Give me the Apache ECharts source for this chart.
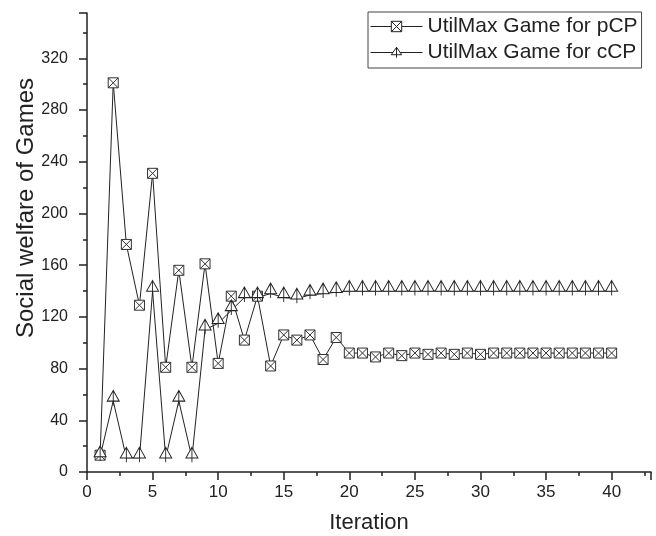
<!DOCTYPE html>
<html>
<head>
    <meta charset="utf-8" />
    <title>Social welfare</title>
    <script src="https://cdn.jsdelivr.net/npm/echarts@6/dist/echarts.min.js"></script>
    <style>
        html, body { margin: 0; padding: 0; background: #fff; }
        #chart { width: 656px; height: 536px; }
    </style>
</head>
<body>
    <div id="chart"></div>
    <script>
        // iteration 1..40
        const iterations = [];
        for (let i = 1; i <= 40; i++) iterations.push(i);
        const pcpValues = [13, 301, 176, 129, 231, 81, 156, 81, 161, 84,
            136, 102, 136, 82, 106, 102, 106, 87, 104, 92,
            92, 89, 92, 90, 92, 91, 92, 91, 92, 91,
            92, 92, 92, 92, 92, 92, 92, 92, 92, 92];
        const ccpValues = [12, 55, 11, 11, 140, 11, 55, 11, 110, 115,
            125, 135, 135, 138, 135, 134, 137, 138, 139, 140,
            140, 140, 140, 140, 140, 140, 140, 140, 140, 140,
            140, 140, 140, 140, 140, 140, 140, 140, 140, 140];
        const seriesNames = ['UtilMax Game for pCP', 'UtilMax Game for cCP'];

        const font = 'Liberation Sans, Arial, sans-serif';
        const ink = '#222';
        const squareX = 'path://M0,0L10,0L10,10L0,10Z M0,0L10,10 M10,0L0,10';
        const triPlus = 'path://M5,0L10,10L0,10Z M5,0L5,14';

        function pairs(vals) {
            return vals.map((v, i) => [iterations[i], v]);
        }

        var myChart = echarts.init(document.getElementById('chart'));
        option = {
            animation: false,
            backgroundColor: '#fff',
            grid: { left: 87, right: 5, top: 13, bottom: 64, outerBoundsMode: 'none' },
            legend: {
                orient: 'vertical',
                left: 368,
                top: 12,
                padding: [4, 4, 5, 2],
                itemGap: 5,
                itemWidth: 52,
                itemHeight: 13,
                borderColor: '#444',
                borderWidth: 1,
                lineStyle: { width: 1 },
                itemStyle: { color: '#fff', borderColor: ink, borderWidth: 1 },
                textStyle: { fontFamily: font, fontSize: 21, color: ink },
                data: seriesNames
            },
            xAxis: {
                type: 'value',
                min: 0,
                max: 43,
                interval: 5,
                name: 'Iteration',
                nameLocation: 'middle',
                nameGap: 40,
                nameTextStyle: { fontFamily: font, fontSize: 22, color: ink },
                axisLine: { onZero: false, lineStyle: { color: ink, width: 1.5 } },
                axisTick: { length: 8, lineStyle: { color: ink, width: 1.5 } },
                minorTick: { show: true, splitNumber: 2, length: 4, lineStyle: { color: ink, width: 1.5 } },
                axisLabel: { fontFamily: font, fontSize: 17, color: ink, margin: 12, showMaxLabel: false },
                splitLine: { show: false }
            },
            yAxis: {
                type: 'value',
                min: 0,
                max: 355,
                interval: 40,
                axisLine: { show: true, onZero: false, lineStyle: { color: ink, width: 1.5 } },
                axisTick: { show: true, length: 8, lineStyle: { color: ink, width: 1.5 } },
                minorTick: { show: true, splitNumber: 2, length: 4, lineStyle: { color: ink, width: 1.5 } },
                axisLabel: { fontFamily: font, fontSize: 16, color: ink, margin: 19, showMaxLabel: false },
                splitLine: { show: false }
            },
            graphic: [{
                type: 'text',
                x: 26,
                y: 208,
                rotation: Math.PI / 2,
                style: {
                    text: 'Social welfare of Games',
                    fontFamily: font,
                    fontSize: 24,
                    fill: ink,
                    align: 'center',
                    verticalAlign: 'middle'
                }
            }],
            series: [
                {
                    name: seriesNames[0],
                    type: 'line',
                    data: pairs(pcpValues),
                    symbol: squareX,
                    symbolSize: 10,
                    lineStyle: { color: ink, width: 1 },
                    itemStyle: { color: '#fff', borderColor: '#333', borderWidth: 1 }
                },
                {
                    name: seriesNames[1],
                    type: 'line',
                    data: pairs(ccpValues),
                    symbol: triPlus,
                    symbolSize: [12, 15],
                    symbolOffset: [0, -3],
                    lineStyle: { color: ink, width: 1 },
                    itemStyle: { color: '#fff', borderColor: '#222', borderWidth: 1 }
                }
            ]
        };
        myChart.setOption(option);
    </script>
</body>
</html>
